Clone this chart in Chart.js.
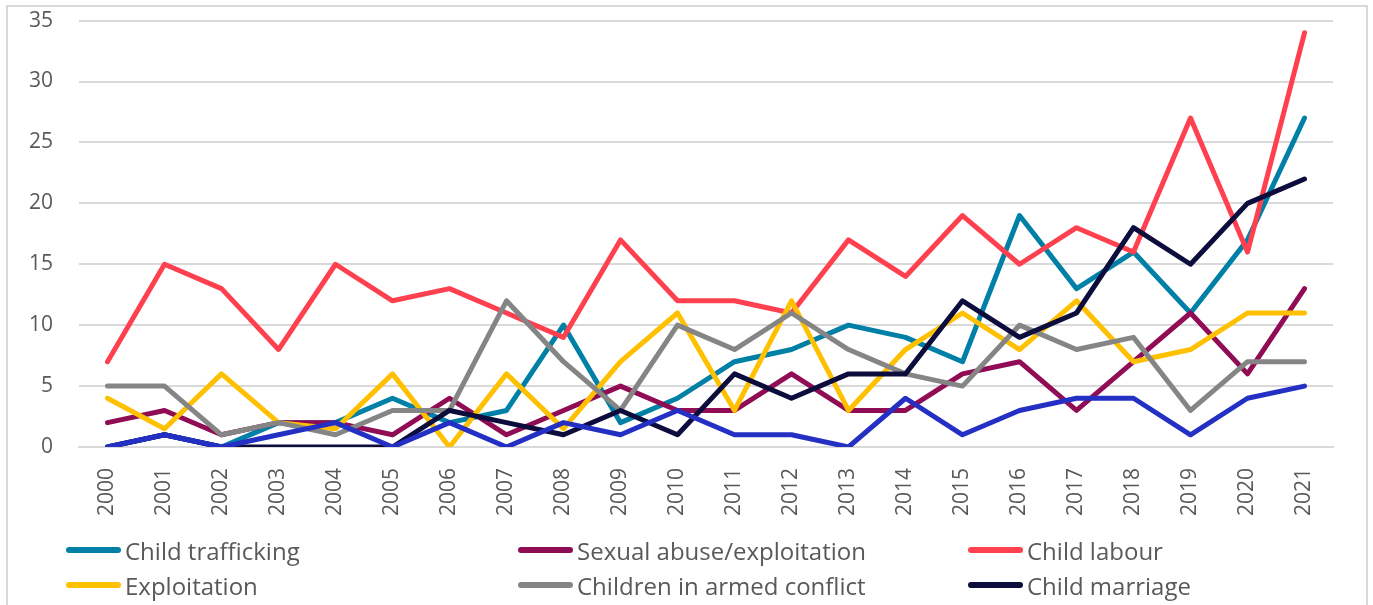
<!DOCTYPE html>
<html>
<head>
<meta charset="utf-8">
<script src="https://cdn.jsdelivr.net/npm/chart.js@4.4.0/dist/chart.umd.min.js"></script>
<style>
  html, body { margin: 0; padding: 0; background: #fff; overflow: hidden; }
  body { width: 1373px; height: 605px; position: relative; font-family: "Open Sans", sans-serif; }
  #frame { position: absolute; left: 6px; top: 5px; width: 1362px; height: 700px; border: 2px solid #d9d9d9; box-sizing: border-box; }
  #wrap { position: absolute; left: 0; top: -18px; width: 1373px; height: 548px; }
  #legend { position: absolute; left: 0; top: 0; width: 1373px; height: 605px; }
  .item { position: absolute; display: flex; align-items: center; font-size: 24px; color: #595959; white-space: nowrap; height: 32px; }
  .swatch { width: 55px; height: 6px; border-radius: 3px; margin-right: 4px; }
</style>
</head>
<body>
<div id="frame"></div>
<div id="wrap"><canvas id="chart" width="1373" height="548"></canvas></div>
<div id="legend"></div>
<script>
const years = ['2000','2001','2002','2003','2004','2005','2006','2007','2008','2009','2010',
               '2011','2012','2013','2014','2015','2016','2017','2018','2019','2020','2021'];

const childTrafficking = [0,1,0,2,2,4,2,3,10,2,4,7,8,10,9,7,19,13,16,11,17,27];
const sexualAbuse      = [2,3,1,2,2,1,4,1,3,5,3,3,6,3,3,6,7,3,7,11,6,13];
const childLabour      = [7,15,13,8,15,12,13,11,9,17,12,12,11,17,14,19,15,18,16,27,16,34];
const exploitation     = [4,1.5,6,2,1.5,6,0,6,1.5,7,11,3,12,3,8,11,8,12,7,8,11,11];
const armedConflict    = [5,5,1,2,1,3,3,12,7,3,10,8,11,8,6,5,10,8,9,3,7,7];
const childMarriage    = [0,1,0,0,0,0,3,2,1,3,1,6,4,6,6,12,9,11,18,15,20,22];
const otherCategory    = [0,1,0,1,2,0,2,0,2,1,3,1,1,0,4,1,3,4,4,1,4,5];

const yTicks = [0,5,10,15,20,25,30,35];

const series = [
  { label: 'Child trafficking',            data: childTrafficking, color: '#0080a6' },
  { label: 'Sexual abuse/exploitation',    data: sexualAbuse,      color: '#900c55' },
  { label: 'Child labour',                 data: childLabour,      color: '#ff404f' },
  { label: 'Exploitation',                 data: exploitation,     color: '#ffc000' },
  { label: 'Children in armed conflict',   data: armedConflict,    color: '#858585' },
  { label: 'Child marriage',               data: childMarriage,    color: '#0c0d3d' },
  { label: 'Other',                        data: otherCategory,    color: '#2430c4' }
];

const ctx = document.getElementById('chart').getContext('2d');
const chart = new Chart(ctx, {
  type: 'line',
  data: {
    labels: years,
    datasets: series.map((s, i) => ({
      label: s.label,
      data: s.data,
      borderColor: s.color,
      backgroundColor: s.color,
      borderWidth: 5,
      pointRadius: 0,
      tension: 0,
      borderCapStyle: 'round',
      borderJoinStyle: 'round',
      order: series.length - i // later series on top, like the original
    }))
  },
  options: {
    responsive: false,
    animation: false,
    layout: { padding: { left: 0, top: 3, right: 40, bottom: 0 } },
    plugins: { legend: { display: false }, tooltip: { enabled: false } },
    scales: {
      x: {
        offset: true,
        grid: { display: false, drawTicks: false },
        border: { display: true, color: '#d9d9d9', width: 2 },
        ticks: {
          minRotation: 90, maxRotation: 90, autoSkip: false,
          padding: 21,
          color: '#595959',
          font: { family: 'Open Sans', size: 21 }
        },
        afterFit: scale => { scale.height = 83; }
      },
      y: {
        min: 0, max: 35,
        afterBuildTicks: scale => { scale.ticks = yTicks.map(v => ({ value: v })); },
        grid: { color: '#d9d9d9', lineWidth: 2, drawTicks: false },
        border: { display: false },
        ticks: {
          padding: 26,
          color: '#595959',
          font: { family: 'Open Sans', size: 21 }
        },
        afterFit: scale => { scale.width = 79; }
      }
    }
  }
});

// legend, three columns, built from the datasets
const legend = document.getElementById('legend');
const cols = [66, 518, 968];
const rows = [550, 585, 620];
chart.data.datasets.forEach((ds, i) => {
  const item = document.createElement('div');
  item.className = 'item';
  item.style.left = cols[i % 3] + 'px';
  item.style.top = (rows[Math.floor(i / 3)] - 16) + 'px';
  const sw = document.createElement('span');
  sw.className = 'swatch';
  sw.style.background = ds.borderColor;
  const txt = document.createElement('span');
  txt.textContent = ds.label;
  item.appendChild(sw);
  item.appendChild(txt);
  legend.appendChild(item);
});
</script>
</body>
</html>
